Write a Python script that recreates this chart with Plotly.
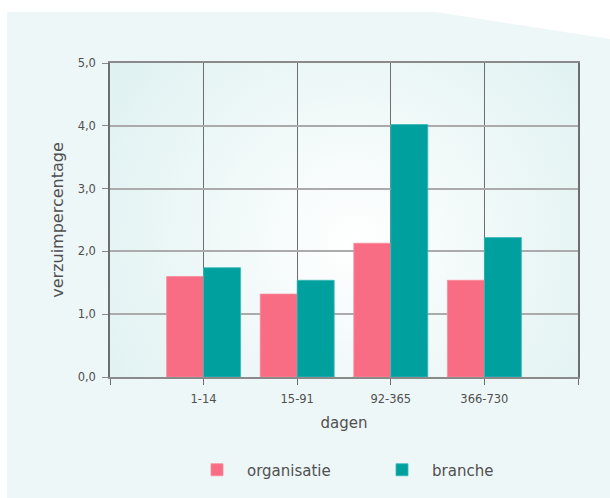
import base64
import plotly.graph_objects as go

categories = ["1-14", "15-91", "92-365", "366-730"]
organisatie = [1.60, 1.32, 2.13, 1.54]
branche = [1.74, 1.54, 4.02, 2.22]
series_names = ["organisatie", "branche"]
y_ticks = [0, 1, 2, 3, 4, 5]

W, H = 610, 498
ML, MR, MT, MB = 110, 32, 63, 121
PW, PH = W - ML - MR, H - MT - MB


def px2paper(px, py):
    return (px - ML) / PW, (H - MB - py) / PH


x_pos = list(range(1, len(categories) + 1))

fig = go.Figure()
fig.add_trace(go.Bar(x=x_pos, y=organisatie, name=series_names[0],
                     marker=dict(color="#f86c84", line=dict(color="#fb8a9c", width=0.8))))
fig.add_trace(go.Bar(x=x_pos, y=branche, name=series_names[1],
                     marker=dict(color="#00a09f", line=dict(color="#3ab9b8", width=0.8))))

# white cutout around the light panel
pts = [(0, 0), (W, 0), (W, 39), (436, 12), (7, 12), (7, H), (0, H)]
path = "M " + " L ".join("%f,%f" % px2paper(a, b) for a, b in pts) + " Z"
fig.add_shape(type="path", path=path, xref="paper", yref="paper",
              fillcolor="white", line=dict(width=0), layer="below")

svg = ("<svg xmlns='http://www.w3.org/2000/svg' width='468' height='314' viewBox='0 0 468 314' preserveAspectRatio='none'>"
       "<defs><radialGradient id='g' gradientUnits='userSpaceOnUse' cx='245' cy='180' r='300'>"
       "<stop offset='0' stop-color='#ffffff'/><stop offset='0.5' stop-color='#eff8f8'/>"
       "<stop offset='1' stop-color='#dff1f1'/></radialGradient></defs>"
       "<rect width='468' height='314' fill='url(#g)'/></svg>")
src = "data:image/svg+xml;base64," + base64.b64encode(svg.encode()).decode()
fig.add_layout_image(source=src, xref="paper", yref="paper", x=0, y=1, sizex=1, sizey=1,
                     sizing="stretch", xanchor="left", yanchor="top", layer="below")

font_main = "'DejaVu Sans', sans-serif"
txt = "#505050"
lx, ly = px2paper(187, 470)

fig.update_layout(
    width=W, height=H,
    margin=dict(l=ML, r=MR, t=MT, b=MB, pad=0, autoexpand=False),
    paper_bgcolor="#eef7f8",
    plot_bgcolor="rgba(0,0,0,0)",
    separators=",.",
    barmode="group", bargap=0.21, bargroupgap=0,
    font=dict(family=font_main, color=txt),
    showlegend=True,
    legend=dict(orientation="h", x=lx, y=ly, xanchor="left", yanchor="middle",
                font=dict(size=15, color=txt), itemwidth=50,
                entrywidth=120, entrywidthmode="pixels",
                bgcolor="rgba(0,0,0,0)", traceorder="normal"),
    xaxis=dict(range=[0, len(categories) + 1], tickmode="array",
               tickvals=list(range(0, len(categories) + 2)),
               ticktext=[""] + categories + [""],
               showgrid=True, gridcolor="#6e6e6e", gridwidth=1,
               showline=True, linecolor="#8a8a8a", linewidth=1.5, mirror=True,
               ticks="outside", ticklen=6, tickcolor="#6e6e6e", tickwidth=1,
               ticklabelstandoff=4,
               tickfont=dict(size=11.5, color=txt),
               zeroline=False, fixedrange=True, automargin=False,
               title=dict(text="dagen", font=dict(size=15, color=txt), standoff=13)),
    yaxis=dict(range=[0, 5], tickmode="array", tickvals=y_ticks, tickformat=".1f",
               showgrid=True, gridcolor="#ababab", gridwidth=1.5,
               showline=True, linecolor="#6e6e6e", linewidth=1.5, mirror=True,
               ticks="outside", ticklen=6, tickcolor="#8a8a8a", tickwidth=1,
               ticklabelstandoff=4,
               tickfont=dict(size=11.5, color=txt),
               zeroline=False, fixedrange=True, automargin=False,
               title=dict(text="verzuimpercentage", font=dict(size=16, color=txt), standoff=10)),
)

fig.write_html("out.html", config={"displayModeBar": False})
